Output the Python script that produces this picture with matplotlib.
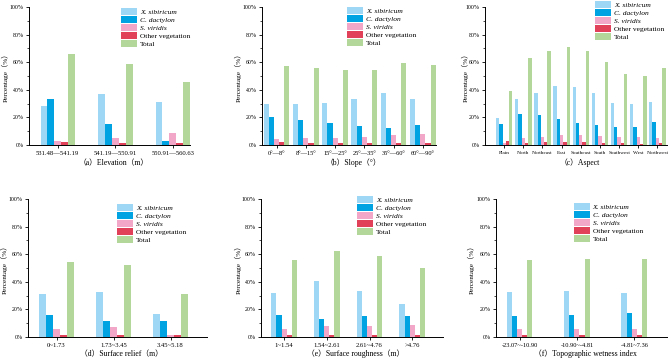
#!/usr/bin/env python

import numpy as np
import matplotlib
matplotlib.use('Agg')
import matplotlib.pyplot as plt
from matplotlib.ticker import MultipleLocator, PercentFormatter

plt.rcParams['font.family'] = ['Liberation Serif', 'Noto Sans CJK SC', 'DejaVu Sans']

# Series names and colours
series = ['X. sibiricum', 'C. dactylon', 'S. viridis', 'Other vegetation', 'Total']
italic = [True, True, True, False, False]
colors = ['#9dd7f5', '#00a3e2', '#f2a7c8', '#e1425a', '#b3d79b']

# (a) Elevation
elev_cats = ['531.48\u2014541.19', '541.19\u2014550.91', '550.91\u2014560.63']
elev_x = [28, 37, 31.5]
elev_c = [33, 15, 3]
elev_s = [3, 5, 9]
elev_o = [2, 1.3, 1.7]
elev_t = [66, 58.5, 45.5]

# (b) Slope
slope_cats = ['0\u00b0\u20148\u00b0', '8\u00b0\u201415\u00b0', '15\u00b0\u201425\u00b0',
              '25\u00b0\u201435\u00b0', '35\u00b0\u201460\u00b0', '60\u00b0\u201490\u00b0']
slope_x = [29.5, 30, 30.5, 33, 38, 33]
slope_c = [20, 18, 16, 14, 12.5, 14.8]
slope_s = [4.5, 5.3, 5.3, 6, 7, 8.3]
slope_o = [2.3, 1.7, 1.3, 1.2, 1.2, 1.6]
slope_t = [57, 55.5, 54, 54.7, 59.7, 58]

# (c) Aspect
asp_cats = ['Plain', 'North', 'Northeast', 'East', 'Southeast', 'South',
            'Southwest', 'West', 'Northwest']
asp_x = [19.8, 33, 37.8, 42.5, 42, 37.5, 30.5, 29.5, 31]
asp_c = [15, 22.5, 21.8, 19, 16.3, 14.4, 13, 13.2, 17]
asp_s = [1.5, 5.3, 6, 7.2, 7.5, 6.6, 6, 5.5, 5.4]
asp_o = [2.7, 1.8, 2, 2.2, 2, 1.7, 1.3, 1, 1.3]
asp_t = [39.3, 63.3, 67.8, 71, 68.3, 60.5, 51.5, 50, 55.5]

# (d) Surface relief
rel_cats = ['0~1.73', '1.73~3.45', '3.45~5.18']
rel_x = [31, 32.3, 17]
rel_c = [16, 11.5, 11.5]
rel_s = [5.5, 7, 1.3]
rel_o = [1.5, 1.3, 1.5]
rel_t = [54.3, 52.5, 31.5]

# (e) Surface roughness
rough_cats = ['1~1.54', '1.54~2.61', '2.61~4.76', '>4.76']
rough_x = [32, 40.3, 33.5, 24]
rough_c = [16, 13, 15.5, 15.5]
rough_s = [5.8, 8, 8, 8.7]
rough_o = [1.5, 1.4, 1.5, 1.6]
rough_t = [55.8, 62.5, 59, 50]

# (f) Topographic wetness index
twi_cats = ['-23.07~-10.90', '-10.90~-4.81', '-4.81~7.36']
twi_x = [32.5, 33, 32]
twi_c = [15.3, 16, 17.5]
twi_s = [5.8, 5.8, 5.8]
twi_o = [1.5, 1.5, 1.5]
twi_t = [55.5, 56.5, 56.8]

W, H = 668.0, 360.0
fig = plt.figure(figsize=(W/100, H/100), dpi=100)

# panel: categories, data, axes box (px: left, right, top, bottom), xlim, group width,
# legend anchor (px), ylabel x (px), caption, tick fontsize
panels = [
    (elev_cats, [elev_x, elev_c, elev_s, elev_o, elev_t], (29, 190, 7, 145), (-0.5, 2.3), 0.6,
     (121, 8), 5, '\uff08a\uff09Elevation\uff08m\uff09', 4.8),
    (slope_cats, [slope_x, slope_c, slope_s, slope_o, slope_t], (262, 436, 7, 145), (-0.5, 5.45), 0.88,
     (347, 7), 238, '\uff08b\uff09Slope\uff08\u00b0\uff09', 4.6),
    (asp_cats, [asp_x, asp_c, asp_s, asp_o, asp_t], (485, 667, 7, 145), (-1.0, 8.5), 0.86,
     (595, 1), 465, '\uff08c\uff09Aspect', 3.8),
    (rel_cats, [rel_x, rel_c, rel_s, rel_o, rel_t], (28, 207, 199, 337), (-0.5, 2.64), 0.61,
     (117, 204), 4, '\uff08d\uff09Surface relief\uff08m\uff09', 4.8),
    (rough_cats, [rough_x, rough_c, rough_s, rough_o, rough_t], (261, 443, 199, 337), (-0.54, 3.72), 0.6,
     (357, 196), 238, '\uff08e\uff09Surface roughness\uff08m\uff09', 4.8),
    (twi_cats, [twi_x, twi_c, twi_s, twi_o, twi_t], (496, 667, 199, 337), (-0.41, 2.57), 0.45,
     (574, 203), 471, '\uff08f\uff09Topographic wetness index', 4.6),
]

for cats, vals, box, xlim, gw, leg_xy, ylab_x, caption, tfs in panels:
    l, r, t, b = box
    ax = fig.add_axes([l/W, 1 - b/H, (r - l)/W, (b - t)/H])
    x = np.arange(len(cats))
    bw = gw / 5.0
    handles = []
    for i, v in enumerate(vals):
        h = ax.bar(x - gw/2 + bw*(i + 0.5), v, width=bw, color=colors[i],
                   linewidth=0, label=series[i])
        handles.append(h)
    ax.set_xlim(*xlim)
    ax.set_ylim(0, 100)
    ax.yaxis.set_major_locator(MultipleLocator(20))
    ax.yaxis.set_minor_locator(MultipleLocator(10))
    ax.yaxis.set_major_formatter(PercentFormatter(decimals=0))
    ax.set_xticks(x)
    ax.set_xticklabels(cats, fontsize=tfs)
    ax.tick_params(axis='y', labelsize=4.2, length=2.5, width=0.6, pad=1.2)
    ax.tick_params(axis='y', which='minor', length=1.5, width=0.5)
    ax.tick_params(axis='x', length=2, width=0.6, pad=2)
    for s in ['top', 'right']:
        ax.spines[s].set_visible(False)
    for s in ['left', 'bottom']:
        ax.spines[s].set_linewidth(0.7)

    leg = ax.legend(handles=handles, loc='upper left',
                    bbox_to_anchor=(leg_xy[0]/W, 1 - leg_xy[1]/H),
                    bbox_transform=fig.transFigure, frameon=False,
                    fontsize=5.4, borderpad=0, borderaxespad=0,
                    handlelength=2.1, handleheight=1.05, labelspacing=0.12,
                    handletextpad=0.4)
    for txt, it in zip(leg.get_texts(), italic):
        if it:
            txt.set_style('italic')

    cy = (t + b) / 2.0
    fig.text(ylab_x/W, 1 - cy/H, 'Percentage\uff08%\uff09', rotation=90,
             ha='center', va='center', fontsize=5.2)
    cap_y = 163 if t < 100 else 354
    fig.text(((l + r) / 2.0 + 4)/W, 1 - cap_y/H, caption, ha='center', va='center',
             fontsize=5.6)

fig.savefig('out.png', dpi=100)
